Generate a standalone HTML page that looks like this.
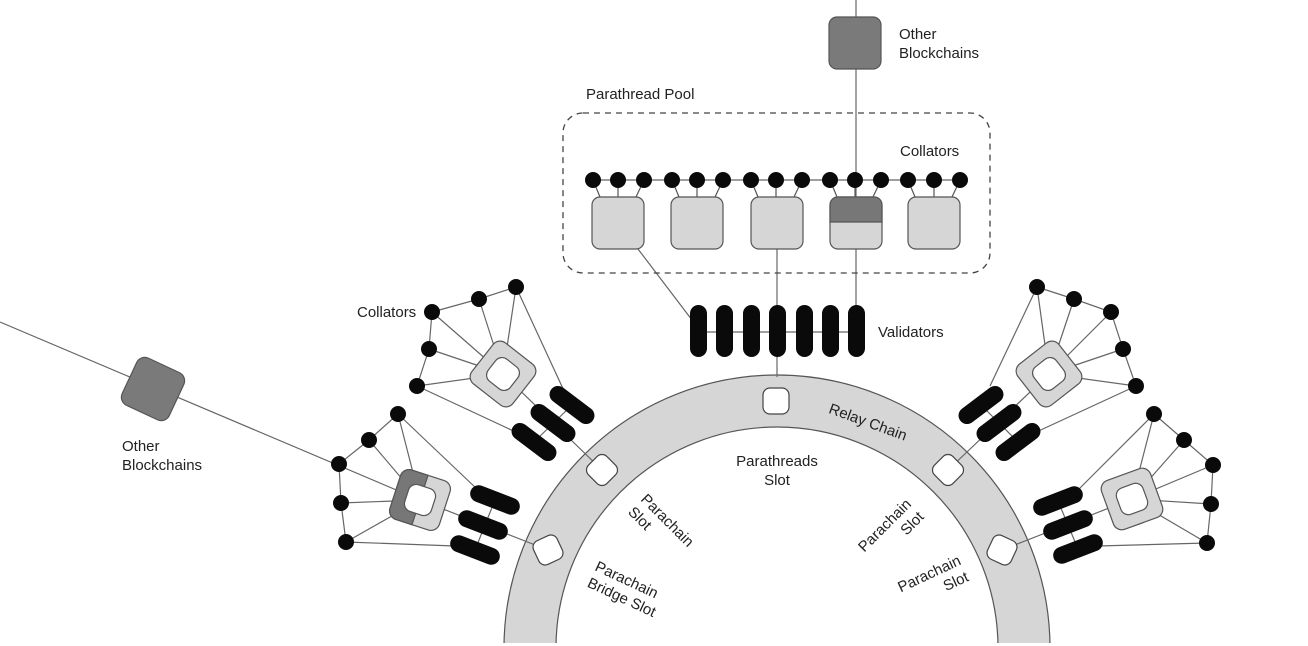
<!DOCTYPE html>
<html><head><meta charset="utf-8"><style>
html,body{margin:0;padding:0;background:#fff;}
svg{display:block;}
text{font-family:"Liberation Sans",sans-serif;font-size:15px;fill:#222;}
</style></head><body>
<svg width="1308" height="646" viewBox="0 0 1308 646" xmlns="http://www.w3.org/2000/svg">
<defs>
<clipPath id="cl"><rect x="0" y="0" width="1308" height="643"/></clipPath>
</defs>
<g clip-path="url(#cl)">
<path d="M 504 648 A 273 273 0 0 1 1050 648 L 998 648 A 221 221 0 0 0 556 648 Z" fill="#d6d6d6" stroke="#555" stroke-width="1.2"/>
</g>
<g fill="none" stroke="#666" stroke-width="1.2">
<line x1="856" y1="0" x2="856" y2="330"/>
<line x1="777" y1="249" x2="777" y2="377"/>
<line x1="638" y1="249" x2="692" y2="320"/>
<line x1="698" y1="332" x2="857" y2="332"/>
<line x1="593" y1="180" x2="960" y2="180"/>
<line x1="0" y1="322" x2="420" y2="500"/>
<polyline points="516,287 479,299 432,312 429,349 417,386"/>
<line x1="516" y1="287" x2="503" y2="374"/><line x1="479" y1="299" x2="503" y2="374"/><line x1="432" y1="312" x2="503" y2="374"/><line x1="429" y1="349" x2="503" y2="374"/><line x1="417" y1="386" x2="503" y2="374"/>
<line x1="516" y1="287" x2="565" y2="393"/><line x1="417" y1="386" x2="520" y2="434"/>
<line x1="503" y1="374" x2="602" y2="470"/><line x1="572" y1="405" x2="534" y2="442"/>
<polyline points="398,414 369,440 339,464 341,503 346,542"/>
<line x1="398" y1="414" x2="420" y2="500"/><line x1="369" y1="440" x2="420" y2="500"/><line x1="341" y1="503" x2="420" y2="500"/><line x1="346" y1="542" x2="420" y2="500"/>
<line x1="398" y1="414" x2="478" y2="490"/><line x1="346" y1="542" x2="455" y2="546"/>
<line x1="420" y1="500" x2="548" y2="550"/><line x1="495" y1="500" x2="475" y2="550"/>
<polyline points="1037,287 1074,299 1111,312 1123,349 1136,386"/>
<line x1="1037" y1="287" x2="1049" y2="374"/><line x1="1074" y1="299" x2="1049" y2="374"/><line x1="1111" y1="312" x2="1049" y2="374"/><line x1="1123" y1="349" x2="1049" y2="374"/><line x1="1136" y1="386" x2="1049" y2="374"/>
<line x1="1037" y1="287" x2="990" y2="386"/><line x1="1136" y1="386" x2="1032" y2="434"/>
<line x1="1049" y1="374" x2="948" y2="470"/><line x1="981" y1="405" x2="1018" y2="442"/>
<polyline points="1154,414 1184,440 1213,465 1211,504 1207,543"/>
<line x1="1154" y1="414" x2="1132" y2="499"/><line x1="1184" y1="440" x2="1132" y2="499"/><line x1="1213" y1="465" x2="1132" y2="499"/><line x1="1211" y1="504" x2="1132" y2="499"/><line x1="1207" y1="543" x2="1132" y2="499"/>
<line x1="1154" y1="414" x2="1076" y2="492"/><line x1="1207" y1="543" x2="1098" y2="546"/>
<line x1="1132" y1="499" x2="1002" y2="550"/><line x1="1058" y1="501" x2="1078" y2="549"/>
</g>
<g fill="#fff" stroke="#444" stroke-width="1.2">
<rect x="763" y="388" width="26" height="26" rx="7"/>
<rect x="589" y="457" width="26" height="26" rx="7" transform="rotate(-45 602 470)"/>
<rect x="535" y="537" width="26" height="26" rx="7" transform="rotate(-25 548 550)"/>
<rect x="935" y="457" width="26" height="26" rx="7" transform="rotate(45 948 470)"/>
<rect x="989" y="537" width="26" height="26" rx="7" transform="rotate(25 1002 550)"/>
</g>
<rect x="563" y="113" width="427" height="160" rx="20" fill="none" stroke="#444" stroke-width="1.3" stroke-dasharray="6,5"/>
<g stroke="#555" stroke-width="1.2">
<rect x="592" y="197" width="52" height="52" rx="8" fill="#d6d6d6"/>
<rect x="671" y="197" width="52" height="52" rx="8" fill="#d6d6d6"/>
<rect x="751" y="197" width="52" height="52" rx="8" fill="#d6d6d6"/>
<rect x="830" y="197" width="52" height="52" rx="8" fill="#d6d6d6"/>
<path d="M830 222 V205 a8 8 0 0 1 8 -8 H874 a8 8 0 0 1 8 8 V222 Z" fill="#777"/>
<rect x="908" y="197" width="52" height="52" rx="8" fill="#d6d6d6"/>
<rect x="829" y="17" width="52" height="52" rx="8" fill="#7a7a7a"/>
<rect x="127" y="363" width="52" height="52" rx="9" fill="#7a7a7a" transform="rotate(25 153 389)"/>
</g>
<g stroke="#555" stroke-width="1.2">
<line x1="593" y1="180" x2="600" y2="197"/><line x1="618" y1="180" x2="618" y2="197"/><line x1="644" y1="180" x2="636" y2="197"/>
<line x1="672" y1="180" x2="679" y2="197"/><line x1="697" y1="180" x2="697" y2="197"/><line x1="723" y1="180" x2="715" y2="197"/>
<line x1="751" y1="180" x2="758" y2="197"/><line x1="776" y1="180" x2="776" y2="197"/><line x1="802" y1="180" x2="794" y2="197"/>
<line x1="830" y1="180" x2="837" y2="197"/><line x1="855" y1="180" x2="855" y2="197"/><line x1="881" y1="180" x2="873" y2="197"/>
<line x1="908" y1="180" x2="915" y2="197"/><line x1="934" y1="180" x2="934" y2="197"/><line x1="960" y1="180" x2="952" y2="197"/>
</g>
<g fill="#0a0a0a">
<circle cx="593" cy="180" r="8"/><circle cx="618" cy="180" r="8"/><circle cx="644" cy="180" r="8"/>
<circle cx="672" cy="180" r="8"/><circle cx="697" cy="180" r="8"/><circle cx="723" cy="180" r="8"/>
<circle cx="751" cy="180" r="8"/><circle cx="776" cy="180" r="8"/><circle cx="802" cy="180" r="8"/>
<circle cx="830" cy="180" r="8"/><circle cx="855" cy="180" r="8"/><circle cx="881" cy="180" r="8"/>
<circle cx="908" cy="180" r="8"/><circle cx="934" cy="180" r="8"/><circle cx="960" cy="180" r="8"/>
<rect x="690" y="305" width="17" height="52" rx="8.5"/><rect x="716" y="305" width="17" height="52" rx="8.5"/>
<rect x="743" y="305" width="17" height="52" rx="8.5"/><rect x="769" y="305" width="17" height="52" rx="8.5"/>
<rect x="796" y="305" width="17" height="52" rx="8.5"/><rect x="822" y="305" width="17" height="52" rx="8.5"/>
<rect x="848" y="305" width="17" height="52" rx="8.5"/>
<circle cx="516" cy="287" r="8"/><circle cx="479" cy="299" r="8"/><circle cx="432" cy="312" r="8"/><circle cx="429" cy="349" r="8"/><circle cx="417" cy="386" r="8"/>
<circle cx="398" cy="414" r="8"/><circle cx="369" cy="440" r="8"/><circle cx="339" cy="464" r="8"/><circle cx="341" cy="503" r="8"/><circle cx="346" cy="542" r="8"/>
<circle cx="1037" cy="287" r="8"/><circle cx="1074" cy="299" r="8"/><circle cx="1111" cy="312" r="8"/><circle cx="1123" cy="349" r="8"/><circle cx="1136" cy="386" r="8"/>
<circle cx="1154" cy="414" r="8"/><circle cx="1184" cy="440" r="8"/><circle cx="1213" cy="465" r="8"/><circle cx="1211" cy="504" r="8"/><circle cx="1207" cy="543" r="8"/>
<rect x="546" y="396.5" width="52" height="17" rx="8.5" transform="rotate(37 572 405)"/>
<rect x="527" y="414.5" width="52" height="17" rx="8.5" transform="rotate(37 553 423)"/>
<rect x="508" y="433.5" width="52" height="17" rx="8.5" transform="rotate(37 534 442)"/>
<rect x="469" y="491.5" width="52" height="17" rx="8.5" transform="rotate(21 495 500)"/>
<rect x="457" y="516.5" width="52" height="17" rx="8.5" transform="rotate(21 483 525)"/>
<rect x="449" y="541.5" width="52" height="17" rx="8.5" transform="rotate(21 475 550)"/>
<rect x="955" y="396.5" width="52" height="17" rx="8.5" transform="rotate(-37 981 405)"/>
<rect x="973" y="414.5" width="52" height="17" rx="8.5" transform="rotate(-37 999 423)"/>
<rect x="992" y="433.5" width="52" height="17" rx="8.5" transform="rotate(-37 1018 442)"/>
<rect x="1032" y="492.5" width="52" height="17" rx="8.5" transform="rotate(-21 1058 501)"/>
<rect x="1042" y="516.5" width="52" height="17" rx="8.5" transform="rotate(-21 1068 525)"/>
<rect x="1052" y="540.5" width="52" height="17" rx="8.5" transform="rotate(-21 1078 549)"/>
</g>
<g stroke="#555" stroke-width="1.2">
<g transform="translate(503 374) rotate(38)"><rect x="-26" y="-26" width="52" height="52" rx="9" fill="#d6d6d6"/><rect x="-14" y="-14" width="28" height="28" rx="8" fill="#fff"/></g>
<g transform="translate(1049 374) rotate(-38)"><rect x="-26" y="-26" width="52" height="52" rx="9" fill="#d6d6d6"/><rect x="-14" y="-14" width="28" height="28" rx="8" fill="#fff"/></g>
<g transform="translate(1132 499) rotate(-20)"><rect x="-26" y="-26" width="52" height="52" rx="9" fill="#d6d6d6"/><rect x="-14" y="-14" width="28" height="28" rx="8" fill="#fff"/></g>
<g transform="translate(420 500) rotate(18)"><rect x="-26" y="-26" width="52" height="52" rx="9" fill="#d6d6d6"/><path d="M0 -26 H-17 a9 9 0 0 0 -9 9 V17 a9 9 0 0 0 9 9 H0 Z" fill="#777"/><rect x="-14" y="-14" width="28" height="28" rx="8" fill="#fff"/></g>
</g>
<text x="899" y="39">Other</text><text x="899" y="58">Blockchains</text>
<text x="586" y="99">Parathread Pool</text>
<text x="900" y="156">Collators</text>
<text x="878" y="337">Validators</text>
<text x="357" y="317">Collators</text>
<text x="122" y="451">Other</text><text x="122" y="470">Blockchains</text>
<text x="777" y="466" text-anchor="middle">Parathreads</text><text x="777" y="485" text-anchor="middle">Slot</text>
<text x="868" y="427" text-anchor="middle" transform="rotate(20 868 422)">Relay Chain</text>
<g transform="translate(640 500) rotate(45)"><text x="0" y="0">Parachain</text><text x="0" y="18">Slot</text></g>
<g transform="translate(594 570) rotate(25)"><text x="0" y="0">Parachain</text><text x="0" y="18">Bridge Slot</text></g>
<g transform="translate(912 505) rotate(-45)"><text x="0" y="0" text-anchor="end">Parachain</text><text x="0" y="18" text-anchor="end">Slot</text></g>
<g transform="translate(962 564) rotate(-25)"><text x="0" y="0" text-anchor="end">Parachain</text><text x="0" y="18" text-anchor="end">Slot</text></g>
</svg>
</body></html>
